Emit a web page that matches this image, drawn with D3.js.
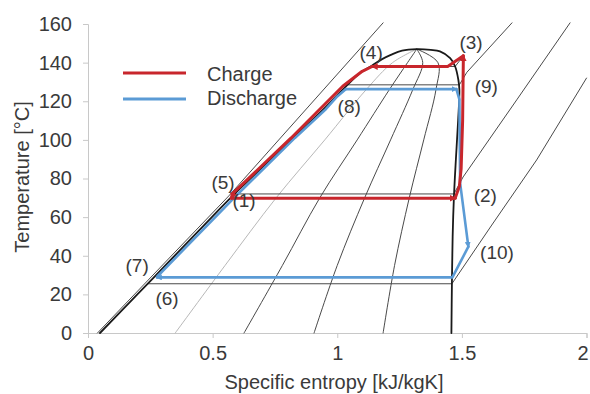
<!DOCTYPE html>
<html>
<head>
<meta charset="utf-8">
<script src="https://cdn.jsdelivr.net/npm/d3@7"></script>
<style>
  html, body { margin: 0; padding: 0; background: #fff; }
  svg { display: block; }
  text { font-family: "Liberation Sans", Arial, Helvetica, sans-serif; fill: #3a3a3a; }
</style>
</head>
<body>
<svg id="chart" width="590" height="394"></svg>
<script>
// T-s diagram of a heat-pump / ORC storage cycle (s in kJ/kgK, T in degC)

// Axis ticks
const xTicks = [0, 0.5, 1, 1.5, 2];
const yTicks = [0, 20, 40, 60, 80, 100, 120, 140, 160];

// Saturation dome: liquid branch up to the critical point, then vapour branch down
const satLiquid = [[0.048,0],[0.198,20],[0.348,40],[0.497,60],[0.572,70],[0.815,100],[0.938,115],
                   [1.022,126],[1.095,135],[1.14,138.5],[1.18,141.8],[1.215,144],[1.26,146.2],[1.319,147]];
const satVapor = [[1.319,147],[1.375,146.6],[1.412,145.8],[1.453,142.3],[1.473,138],[1.486,131],
                  [1.49,126],[1.485,110],[1.476,90],[1.468,70],[1.463,50],[1.46,25],[1.458,0]];

// Lines of constant vapour quality (x = 0.2, 0.4, 0.6, 0.8)
const quality02 = [[0.35,0],[0.55,35],[0.755,70],[0.95,100],[1.116,126],[1.222,140],[1.319,147]];
const quality04 = [[0.626,0],[0.78,35],[0.93,70],[1.08,100],[1.209,126],[1.282,140],[1.319,147]];
const quality06 = [[0.907,0],[1.0,35],[1.11,70],[1.214,100],[1.303,126],[1.343,140],[1.319,147]];
const quality08 = [[1.184,0],[1.23,35],[1.289,70],[1.347,100],[1.396,126],[1.404,140],[1.319,147]];

// Isobars (two-phase plateau + superheated branch)
const isobarLow  = [[0.239,25.5],[1.46,25.5],[1.62,55.9],[1.80,89.6],[2.0,132]];
const isobarMid  = [[0.587,72],[1.468,72],[1.505,80.8],[1.72,120.7],[1.934,160.6]];
const isobarHigh = [[1.045,128.5],[1.49,128.5],[1.52,135],[1.701,160.6]];
const isobarTop  = [[1.14,138],[1.473,138],[1.506,143.5]];
const isobarLiquid = [[0.038,0],[0.565,71],[1.184,160.6]];

// Charge cycle (1)-(2)-(3)-(4)-(5)-(1)
const charge12 = [[0.575,69.8],[1.473,69.8]];
const charge23 = [[1.473,69.8],[1.49,76],[1.497,85],[1.503,110],[1.506,143.5]];
const charge34 = [[1.506,143.5],[1.443,138],[1.14,138]];
const charge45 = [[1.14,138],[1.10,135.5],[1.022,127.8],[0.815,101],[0.585,72.8]];
const charge51 = [[0.585,72.8],[0.575,69.8]];

// Discharge cycle (6)-(7)-(8)-(9)-(10)-(6)
const discharge67  = [[0.277,28.8],[0.28,29.5]];
const discharge78  = [[0.28,29.5],[0.59,70.5],[0.83,101],[0.955,116],[1.0,122.5],[1.035,126.3]];
const discharge89  = [[1.035,126.3],[1.478,126.3]];
const discharge910 = [[1.478,126.3],[1.49,121],[1.493,77.6],[1.526,44.7]];
const discharge106 = [[1.526,44.7],[1.462,28.8],[0.277,28.8]];

// State point labels
const stateLabels = ["(1)","(2)","(3)","(4)","(5)","(6)","(7)","(8)","(9)","(10)"];
const stateLabelPos = [[0.626,68.4],[1.594,71.3],[1.537,150.3],[1.136,145.3],[0.542,77.7],
                       [0.317,18.1],[0.197,35.2],[1.048,117.1],[1.598,127.5],[1.641,41.5]];

// Legend
const legendNames = ["Charge", "Discharge"];
const colors = { charge: "#c8262c", discharge: "#5b9bd5" };

const svg = d3.select("#chart");
const x = d3.scaleLinear().domain([0, 2]).range([88, 586.5]);
const y = d3.scaleLinear().domain([0, 160]).range([333, 24]);

// Arrow markers
const defs = svg.append("defs");
[["arrowCharge", colors.charge], ["arrowDischarge", colors.discharge]].forEach(([id, c]) => {
  defs.append("marker").attr("id", id).attr("viewBox", "0 0 10 10")
    .attr("refX", 8).attr("refY", 5).attr("markerWidth", 2.3).attr("markerHeight", 2.3)
    .attr("markerUnits", "strokeWidth").attr("orient", "auto")
    .append("path").attr("d", "M0,0 L10,5 L0,10 Z").attr("fill", c);
});

// Axes
const xAxis = svg.append("g").attr("transform", `translate(0,${y(0)})`)
  .call(d3.axisBottom(x).tickValues(xTicks).tickFormat(d3.format("~g")).tickSize(5).tickPadding(8));
const yAxis = svg.append("g").attr("transform", `translate(${x(0)},0)`)
  .call(d3.axisLeft(y).tickValues(yTicks).tickSize(5).tickPadding(11));
[xAxis, yAxis].forEach(g => {
  g.select(".domain").attr("stroke", "#c8c8c8");
  g.selectAll(".tick line").attr("stroke", "#c8c8c8");
  g.selectAll(".tick text").attr("font-size", 20).attr("fill", "#3a3a3a")
    .style("font-family", "'Liberation Sans', Arial, sans-serif");
});
// keep the last x tick label inside the page
xAxis.selectAll(".tick text").filter(d => d === 2).attr("text-anchor", "end").attr("dx", 1.5);

svg.append("text").attr("x", 334).attr("y", 389).attr("text-anchor", "middle")
  .attr("font-size", 20).text("Specific entropy [kJ/kgK]");
svg.append("text").attr("transform", "translate(29,177) rotate(-90)").attr("text-anchor", "middle")
  .attr("font-size", 20).text("Temperature [°C]");

const line = d3.line().x(d => x(d[0])).y(d => y(d[1]));
const smooth = d3.line().x(d => x(d[0])).y(d => y(d[1])).curve(d3.curveCatmullRom.alpha(0.5));

const draw = (data, stroke, width, gen = line, marker = null) => {
  const p = svg.append("path").attr("d", gen(data)).attr("fill", "none")
    .attr("stroke", stroke).attr("stroke-width", width)
    .attr("stroke-linejoin", "round").attr("stroke-linecap", "round");
  if (marker) p.attr("marker-end", `url(#${marker})`);
  return p;
};

// Background property lines
draw(quality02, "#b8b8b8", 1, smooth);
[quality04, quality06, quality08].forEach(q => draw(q, "#4a4a4a", 1, smooth));
[isobarLow, isobarMid, isobarHigh, isobarTop].forEach(p => draw(p, "#4a4a4a", 1));
draw(isobarLiquid, "#4a4a4a", 1);

// Saturation dome
draw(satLiquid.concat(satVapor.slice(1)), "#1a1a1a", 1.8, smooth);

// Discharge cycle
const dw = 2.6;
draw(discharge67, colors.discharge, dw);
draw(discharge78, colors.discharge, dw);
draw(discharge89, colors.discharge, dw, line, "arrowDischarge");
draw(discharge910, colors.discharge, dw, line, "arrowDischarge");
draw(discharge106, colors.discharge, dw, line, "arrowDischarge");

// Charge cycle
const cw = 3;
draw(charge12, colors.charge, cw, line, "arrowCharge");
draw(charge23, colors.charge, cw, line, "arrowCharge");
draw(charge34, colors.charge, cw, line, "arrowCharge");
draw(charge45, colors.charge, cw);
draw(charge51, colors.charge, cw, line, "arrowCharge");

// State labels
svg.append("g").selectAll("text").data(stateLabels).join("text")
  .attr("x", (d, i) => x(stateLabelPos[i][0]))
  .attr("y", (d, i) => y(stateLabelPos[i][1]))
  .attr("text-anchor", "middle").attr("dominant-baseline", "central")
  .attr("font-size", 19).attr("fill", "#333").text(d => d);

// Legend
const legend = svg.append("g");
[colors.charge, colors.discharge].forEach((c, i) => {
  legend.append("line").attr("x1", 123).attr("x2", 186)
    .attr("y1", 73 + i * 26).attr("y2", 73 + i * 26)
    .attr("stroke", c).attr("stroke-width", 3);
  legend.append("text").attr("x", 207).attr("y", 74 + i * 24)
    .attr("dominant-baseline", "central").attr("font-size", 20).attr("fill", "#333")
    .text(legendNames[i]);
});
</script>
</body>
</html>
